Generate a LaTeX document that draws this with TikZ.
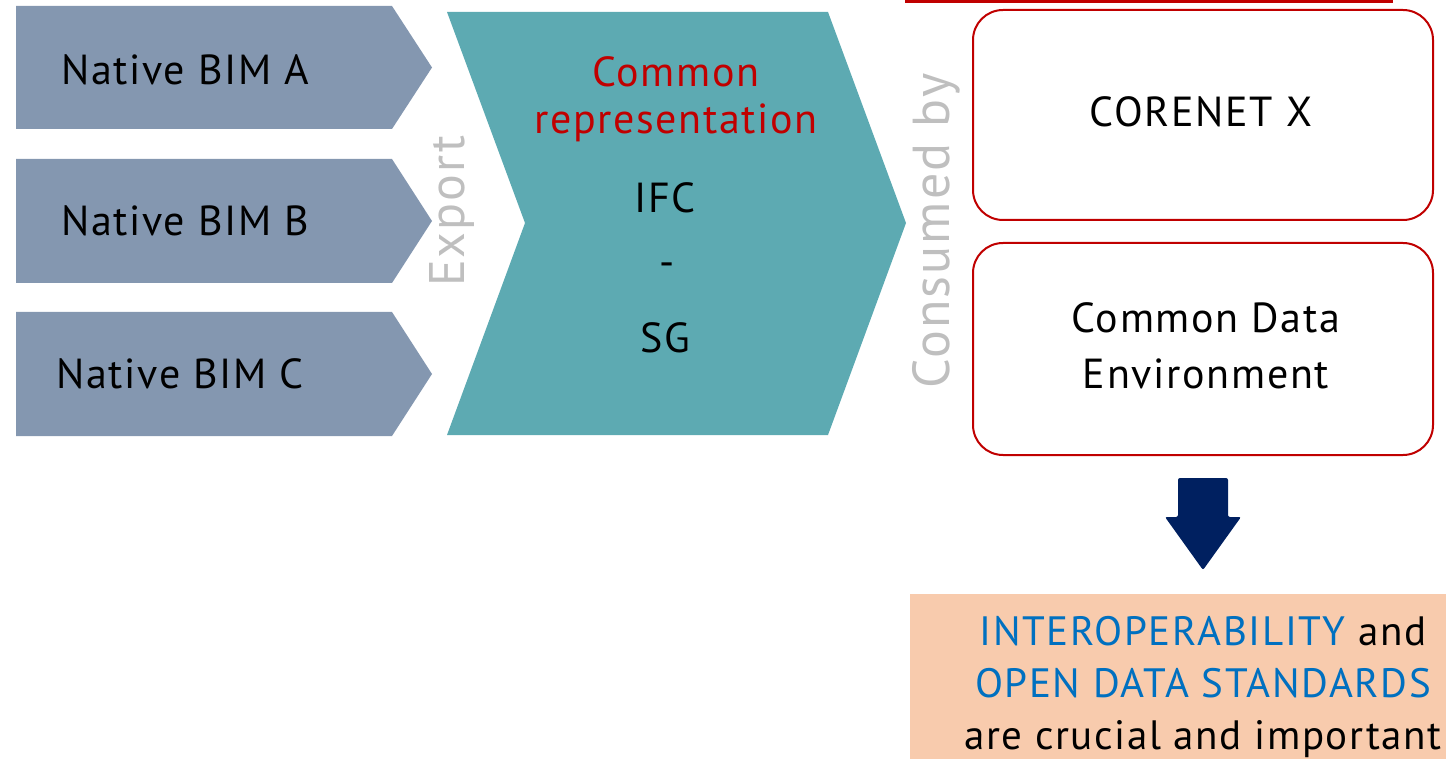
\documentclass[tikz,border=0pt]{standalone}
\usepackage{fontspec}
\setmainfont[LetterSpace=4]{PT Sans}
\definecolor{chev}{HTML}{8497B0}
\definecolor{teal2}{HTML}{5DAAB2}
\definecolor{redc}{HTML}{C00000}
\definecolor{navy}{HTML}{002060}
\definecolor{peach}{HTML}{F8CBAD}
\definecolor{bluet}{HTML}{0070C0}
\definecolor{greyt}{HTML}{BFBFBF}
\begin{document}
\begin{tikzpicture}[x=1pt,y=-1pt,
  lbl/.style={font=\fontsize{42}{56}\selectfont, text=black, inner sep=0pt, align=center},
  vlbl/.style={text=greyt, inner sep=0pt, rotate=90},
  rbox/.style={draw=redc, line width=2pt, rounded corners=30pt, fill=white, minimum width=460pt, inner sep=0pt},
  chevfill/.style={fill=chev},
]
\useasboundingbox (0,0) rectangle (1446,759);
% left chevrons
\foreach \t/\b in {6/129, 159/283, 312/436}{
  \fill[chevfill] (16,\t) -- (392,\t) -- (432,{(\t+\b)/2}) -- (392,\b) -- (16,\b) -- cycle;
}
\node[lbl] (bimA) at (185,70) {Native BIM A};
\node[lbl] (bimB) at (185,221) {Native BIM B};
\node[lbl] (bimC) at (180,374) {Native BIM C};
% export
\node[vlbl, font=\fontsize{50}{60}\selectfont] (export) at (452,211) {Export};
% teal chevron
\fill[teal2] (447,12) -- (828,12) -- (906,223) -- (828,435) -- (447,435) -- (525,223) -- cycle;
\node[lbl, text=redc] (common) at (676,72) {Common};
\node[lbl, text=redc] (repr) at (676,123) {representation};
\node[lbl] (ifc) at (665,198) {IFC};
\node[lbl] (dash) at (667,270) {-};
\node[lbl] (sg) at (665,338) {SG};
% consumed by
\node[vlbl, font=\fontsize{52}{60}\selectfont] (consumed) at (936,231) {Consumed by};
% red line
\draw[redc, line width=3pt] (905,1.5) -- (1393,1.5);
% boxes
\node[rbox, minimum height=210pt] (corenet) at (1203,115) {};
\node[lbl] (corenettxt) at (1201,112) {CORENET X};
\node[rbox, minimum height=212pt] (cde) at (1203,349) {};
\node[lbl] (cdetxt) at (1206,346) {Common Data\\Environment};
% arrow
\fill[navy, rounded corners=2pt] (1178,478) -- (1228,478) -- (1228,517) -- (1241,517) -- (1203,570) -- (1165,517) -- (1178,517) -- cycle;
% bottom box
\fill[peach] (910,594) rectangle (1446,759);
\node[lbl, font=\fontsize{41}{52}\selectfont] (concl) at (1203,687) {\textcolor{bluet}{INTEROPERABILITY} and\\\textcolor{bluet}{OPEN DATA STANDARDS}\\are crucial and important};
\end{tikzpicture}
\end{document}
